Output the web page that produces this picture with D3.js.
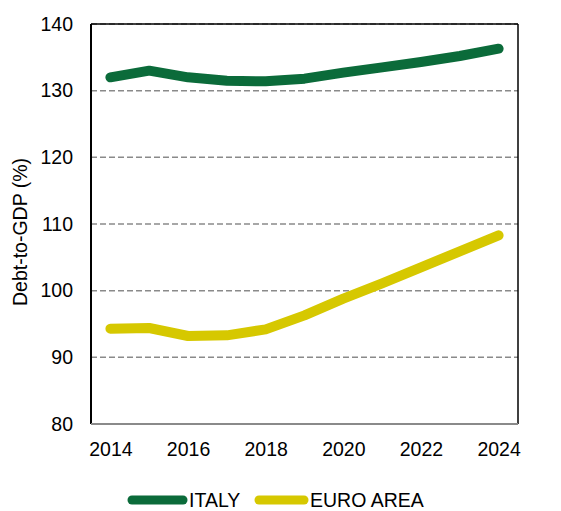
<!DOCTYPE html>
<html>
<head>
<meta charset="utf-8">
<script src="https://cdn.jsdelivr.net/npm/d3@7"></script>
<style>
  body { margin: 0; background: #fff; }
  text { font-family: "Liberation Sans", Arial, sans-serif; fill: #000; }
</style>
</head>
<body>
<svg width="561" height="511"></svg>
<script>
// data
var years = [2014, 2015, 2016, 2017, 2018, 2019, 2020, 2021, 2022, 2023, 2024];
var italy = [132.0, 133.0, 132.0, 131.5, 131.4, 131.8, 132.7, 133.5, 134.3, 135.2, 136.3];
var euroArea = [94.3, 94.4, 93.2, 93.3, 94.2, 96.3, 98.8, 101.1, 103.5, 105.9, 108.3];
var yTicks = [80, 90, 100, 110, 120, 130, 140];
var xTicks = [2014, 2016, 2018, 2020, 2022, 2024];

var series = [
  {name: "ITALY", values: italy, color: "#0b6b3a"},
  {name: "EURO AREA", values: euroArea, color: "#d6c800"}
];

// plot box (window.top is read-only, so no "top" here)
var pLeft = 91, pRight = 518, pTop = 24, pBottom = 424;

var svg = d3.select("svg");

var x = d3.scalePoint()
  .domain(years)
  .range([pLeft, pRight])
  .padding(0.5);

var y = d3.scaleLinear()
  .domain([80, 140])
  .range([pBottom, pTop]);

// grid
svg.append("g")
  .selectAll("line")
  .data(yTicks.filter(d => d > 80))
  .enter()
  .append("line")
    .attr("x1", pLeft)
    .attr("x2", pRight)
    .attr("y1", d => y(d))
    .attr("y2", d => y(d))
    .attr("stroke", "#8a8a8a")
    .attr("stroke-width", 1.5)
    .attr("stroke-dasharray", "6,3");

// frame
svg.append("line")
  .attr("x1", pLeft).attr("x2", pRight).attr("y1", pTop).attr("y2", pTop)
  .attr("stroke", "#000").attr("stroke-width", 1.5);
svg.append("line")
  .attr("x1", pRight).attr("x2", pRight).attr("y1", pTop).attr("y2", pBottom)
  .attr("stroke", "#000").attr("stroke-width", 1.5);
svg.append("line")
  .attr("x1", pLeft).attr("x2", pLeft).attr("y1", pTop).attr("y2", pBottom)
  .attr("stroke", "#000").attr("stroke-width", 2);
svg.append("line")
  .attr("x1", pLeft).attr("x2", pRight).attr("y1", pBottom).attr("y2", pBottom)
  .attr("stroke", "#8a8a8a").attr("stroke-width", 2);

// y tick labels
var yAxis = svg.append("g")
  .attr("transform", "translate(" + pLeft + ",0)")
  .call(d3.axisLeft(y).tickValues(yTicks).tickSize(0).tickPadding(18));
yAxis.select(".domain").remove();
yAxis.selectAll("text")
  .attr("font-size", "19.5px")
  .attr("font-family", "Liberation Sans, Arial, sans-serif")
  .attr("fill", "#000");

// x tick labels
var xAxis = svg.append("g")
  .attr("transform", "translate(0," + pBottom + ")")
  .call(d3.axisBottom(x).tickValues(xTicks).tickSize(0).tickPadding(18));
xAxis.select(".domain").remove();
xAxis.selectAll("text")
  .attr("font-size", "19.5px")
  .attr("font-family", "Liberation Sans, Arial, sans-serif")
  .attr("fill", "#000");

// y label
svg.append("text")
  .attr("transform", "translate(26.5," + ((pTop + pBottom) / 2 + 8) + ") rotate(-90)")
  .attr("text-anchor", "middle")
  .attr("font-size", "19.5px")
  .text("Debt-to-GDP (%)");

// lines
var line = d3.line()
  .x((d, i) => x(years[i]))
  .y(d => y(d));

svg.append("g")
  .selectAll("path")
  .data(series)
  .enter()
  .append("path")
    .attr("d", d => line(d.values))
    .attr("fill", "none")
    .attr("stroke", d => d.color)
    .attr("stroke-width", 10)
    .attr("stroke-linecap", "round")
    .attr("stroke-linejoin", "round");

// legend
var legendX = [132, 259];
var legendLen = [51, 45];
var leg = svg.append("g")
  .selectAll("g")
  .data(series)
  .enter()
  .append("g")
    .attr("transform", (d, i) => "translate(" + legendX[i] + ",500)");
leg.append("line")
  .attr("x1", 0).attr("x2", (d, i) => legendLen[i])
  .attr("stroke", d => d.color)
  .attr("stroke-width", 9)
  .attr("stroke-linecap", "round");
leg.append("text")
  .attr("x", (d, i) => legendLen[i] + 6)
  .attr("y", 7)
  .attr("font-size", "19.5px")
  .text(d => d.name);
</script>
</body>
</html>
